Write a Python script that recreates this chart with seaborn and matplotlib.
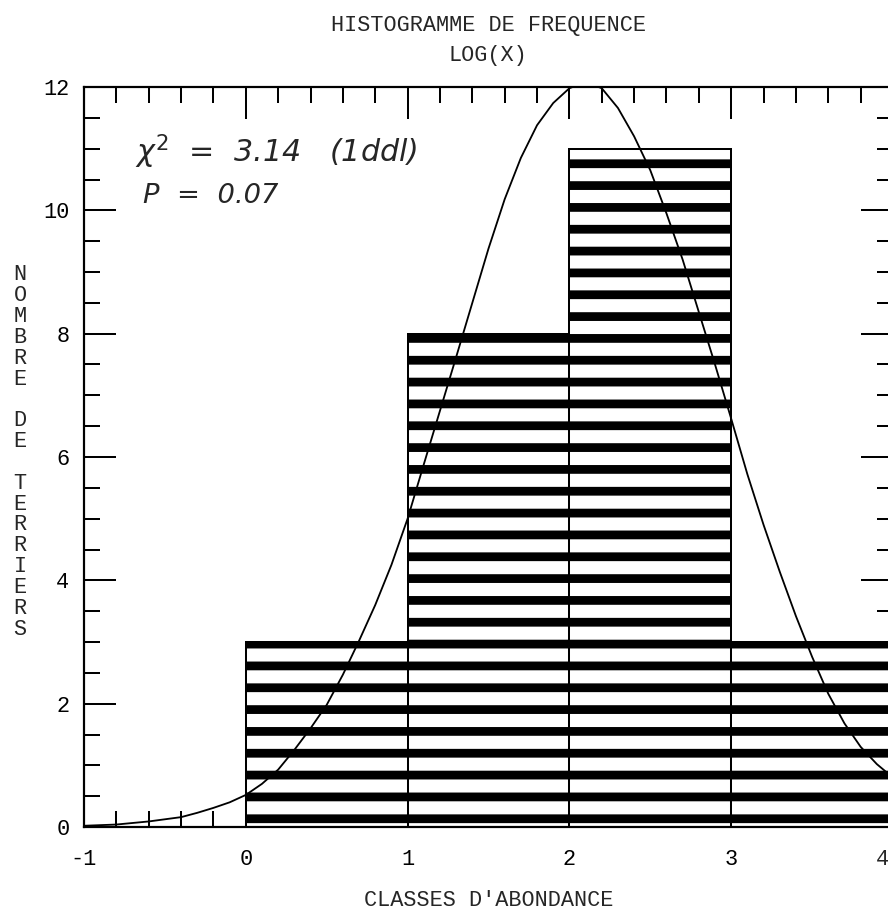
import matplotlib
matplotlib.use("Agg")
import matplotlib.pyplot as plt
from matplotlib.ticker import MultipleLocator, FuncFormatter
import numpy as np
import pandas as pd
import seaborn as sns

# ---- data ----
bin_edges = [0, 1, 2, 3, 4]
class_mid = [0.5, 1.5, 2.5, 3.5]
counts = [3, 8, 11, 3]

curve_x = [-1.0, -0.8, -0.6, -0.4, -0.3, -0.2, -0.1, 0.0, 0.1, 0.2, 0.3, 0.4,
           0.5, 0.6, 0.7, 0.8, 0.9, 1.0, 1.1, 1.2, 1.3, 1.4, 1.5, 1.6, 1.7,
           1.8, 1.9, 2.0, 2.1, 2.2, 2.3, 2.4, 2.5, 2.6, 2.7, 2.8, 2.9, 3.0,
           3.1, 3.2, 3.3, 3.4, 3.5, 3.6, 3.7, 3.8, 3.9, 4.0]
curve_y = [0.02, 0.04, 0.09, 0.16, 0.23, 0.31, 0.40, 0.52, 0.70, 0.93, 1.25, 1.60,
           1.98, 2.47, 3.02, 3.60, 4.25, 5.00, 5.88, 6.75, 7.62, 8.50, 9.38, 10.18, 10.85,
           11.38, 11.74, 11.98, 12.08, 11.98, 11.66, 11.2, 10.65, 9.95, 9.2, 8.35, 7.5, 6.62,
           5.72, 4.9, 4.14, 3.42, 2.76, 2.16, 1.68, 1.3, 1.02, 0.8]

title_lines = ["HISTOGRAMME DE FREQUENCE", "LOG(X)"]
x_label = "CLASSES D'ABONDANCE"
y_label = "NOMBRE DE TERRIERS"
chi_text = r"$\chi^{2}$  =  3.14   (1ddl)"
p_text = "P  =  0.07"
last_x_tick = 4

# ---- style ----
sns.set_theme(style="ticks")
plt.rcParams["font.family"] = ["Liberation Mono", "DejaVu Sans Mono"]
plt.rcParams["hatch.linewidth"] = 4.8
plt.rcParams["hatch.color"] = "black"
plt.rcParams["mathtext.fontset"] = "dejavusans"
plt.rcParams["axes.unicode_minus"] = False

DPI = 131.5
fig = plt.figure(figsize=(888 / DPI, 911 / DPI), dpi=DPI)
fig.patch.set_facecolor("white")
ax = fig.add_axes([84 / 888, 84 / 911, 809 / 888, 740 / 911])
ax.set_facecolor("white")

df = pd.DataFrame({"classe": class_mid, "n": counts})
sns.histplot(data=df, x="classe", weights="n", bins=bin_edges, ax=ax,
             color="white", edgecolor="black", linewidth=1.1, alpha=1,
             element="bars", fill=True)
for p in ax.patches:
    p.set_hatch("-")
    p.set_facecolor("white")
    p.set_edgecolor("black")

sns.lineplot(x=curve_x, y=curve_y, ax=ax, color="black", linewidth=1.0, zorder=5)

ax.set_xlim(-1, 4)
ax.set_ylim(0, 12)
ax.xaxis.set_major_locator(MultipleLocator(1))
ax.xaxis.set_minor_locator(MultipleLocator(0.2))
ax.yaxis.set_major_locator(MultipleLocator(2))
ax.yaxis.set_minor_locator(MultipleLocator(0.5))
ax.xaxis.set_major_formatter(FuncFormatter(
    lambda v, pos: "" if abs(v - last_x_tick) < 1e-9 else f"{v:g}"))
ax.tick_params(which="both", direction="in", top=True, right=True,
               width=1.1, color="black", labelcolor="black")
ax.tick_params(which="major", length=17.5)
ax.tick_params(which="minor", length=9)
ax.tick_params(axis="x", pad=12, labelsize=12)
ax.tick_params(axis="y", pad=8, labelsize=12)
for s in ax.spines.values():
    s.set_visible(True)
    s.set_linewidth(1.2)
    s.set_color("black")
ax.grid(False)

# last x tick label nudged left so it stays inside the picture (as in the reference)
ax.annotate(f"{last_x_tick}", xy=(last_x_tick, 0), xycoords=("data", "axes fraction"),
            xytext=(-11 * 72 / DPI, -12), textcoords="offset points",
            ha="center", va="top", fontsize=12, annotation_clip=False)

ax.set_xlabel(x_label, fontsize=12, va="center")
ax.xaxis.set_label_coords((489 - 84) / 809, (827 - 900) / 740)
ax.set_ylabel("\n".join(y_label), rotation=0, fontsize=12, va="center",
              ha="center", linespacing=0.99)
ax.yaxis.set_label_coords((20 - 84) / 809, (827 - 452) / 740)

fig.text(488 / 888, 1 - 25 / 911, title_lines[0], ha="center", va="center", fontsize=12)
fig.text(488 / 888, 1 - 55 / 911, title_lines[1], ha="center", va="center", fontsize=12)

ax.text(-0.685, 10.95, chi_text, family="DejaVu Sans", fontstyle="italic",
        fontsize=16.5, va="center", ha="left", zorder=6)
ax.text(-0.635, 10.23, p_text, family="DejaVu Sans", fontstyle="italic",
        fontsize=15, va="center", ha="left", zorder=6)

fig.savefig("out.png", dpi=DPI, facecolor="white")
